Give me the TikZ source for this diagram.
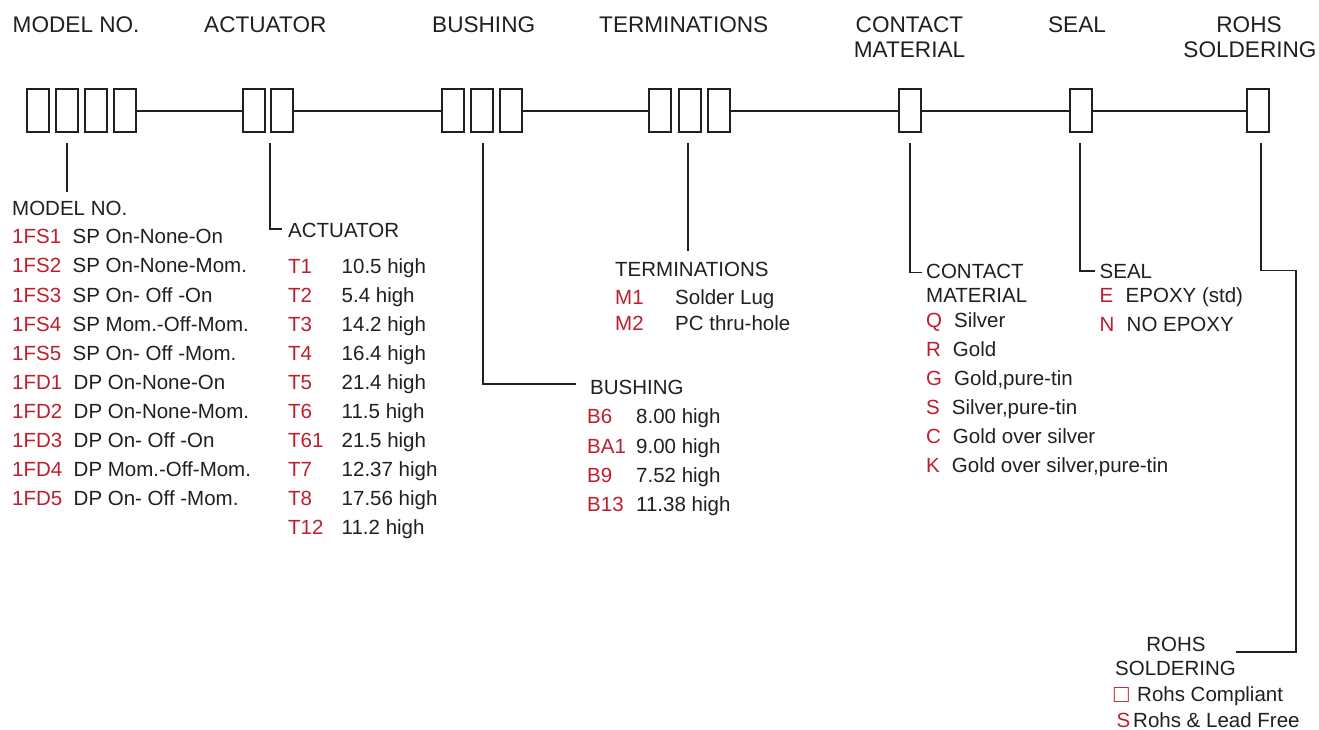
\documentclass[tikz,border=0pt]{standalone}
\usepackage{fontspec}
\setmainfont{Liberation Sans}
\definecolor{ink}{RGB}{35,31,32}
\definecolor{codered}{RGB}{190,30,45}
\begin{document}
\begin{tikzpicture}[x=1pt,y=-1pt,
 box/.style={draw=ink, line width=2pt, minimum width=22pt, minimum height=43pt, inner sep=0pt, outer sep=0pt},
 conn/.style={draw=ink, line width=2pt},
 lead/.style={draw=ink, line width=1.7pt},
 head/.style={font=\fontsize{22.6}{26}\selectfont, text=ink, inner sep=0pt, text height=16.2pt, text depth=0pt},
 txt/.style={font=\fontsize{20.5}{24}\selectfont, text=ink, inner sep=0pt, text height=14.7pt, text depth=0pt, anchor=west},
 code/.style={txt, text=codered}]
\useasboundingbox[fill=white] (0,0) rectangle (1319,729);

% ---- headings
\node[head, anchor=west] (hmodel) at (12.5,24.5) {MODEL NO.};
\node[head, anchor=west] (hact) at (204,24.5) {ACTUATOR};
\node[head, anchor=west] (hbush) at (432,24.5) {BUSHING};
\node[head, anchor=west] (hterm) at (599,24.5) {TERMINATIONS};
\node[head] (hcont1) at (909.5,24) {CONTACT};
\node[head] (hcont2) at (909.5,49.5) {MATERIAL};
\node[head] (hseal) at (1077,24) {SEAL};
\node[head] (hrohs1) at (1249,24) {ROHS};
\node[head] (hrohs2) at (1250,49.5) {SOLDERING};

% ---- boxes
\node[box] (m1) at (38,110.5) {};
\node[box] (m2) at (67,110.5) {};
\node[box] (m3) at (96,110.5) {};
\node[box] (m4) at (125,110.5) {};
\node[box] (a1) at (254,110.5) {};
\node[box] (a2) at (282,110.5) {};
\node[box] (b1) at (453,110.5) {};
\node[box] (b2) at (482,110.5) {};
\node[box] (b3) at (511,110.5) {};
\node[box] (t1) at (660,110.5) {};
\node[box] (t2) at (690,110.5) {};
\node[box] (t3) at (719,110.5) {};
\node[box] (c1) at (910,110.5) {};
\node[box] (s1) at (1080.5,110.5) {};
\node[box] (r1) at (1258,110.5) {};

% ---- main line
\draw[conn] (m4.east) -- (a1.west);
\draw[conn] (a2.east) -- (b1.west);
\draw[conn] (b3.east) -- (t1.west);
\draw[conn] (t3.east) -- (c1.west);
\draw[conn] (c1.east) -- (s1.west);
\draw[conn] (s1.east) -- (r1.west);

% ---- lead coordinates
\coordinate (mt) at (67,143);   \coordinate (mb) at (67,192);
\coordinate (at) at (270,143);  \coordinate (ab) at (270,229);  \coordinate (ae) at (282,229);
\coordinate (bt) at (483,143);  \coordinate (bb) at (483,384);  \coordinate (be) at (575.5,384);
\coordinate (tt) at (688,143);  \coordinate (tb) at (688,251);
\coordinate (ct) at (910,143);  \coordinate (cb) at (910,272.5); \coordinate (ce) at (921.5,272.5);
\coordinate (st) at (1080,143); \coordinate (sb) at (1080,271);  \coordinate (se) at (1095,271);
\coordinate (rt) at (1261,143); \coordinate (rb) at (1261,270.5); \coordinate (rc) at (1296,270.5);
\coordinate (rd) at (1296,652); \coordinate (re) at (1236,652);

\draw[lead] (mt) -- (mb);
\draw[lead] (at) -- (ab) -- (ae);
\draw[lead] (bt) -- (bb) -- (be);
\draw[lead] (tt) -- (tb);
\draw[lead] (ct) -- (cb) -- (ce);
\draw[lead] (st) -- (sb) -- (se);
\draw[lead] (rt) -- (rb) -- (rc) -- (rd) -- (re);

% ---- MODEL NO. list
\node[txt] (lmodel) at (12,208.5) {MODEL NO.};
\foreach \c/\d/\dx [count=\i from 0] in {1FS1/SP On-None-On/72.5, 1FS2/SP On-None-Mom./72.5, 1FS3/SP On- Off -On/72.5, 1FS4/SP Mom.-Off-Mom./72.5, 1FS5/SP On- Off -Mom./72.5, 1FD1/DP On-None-On/73.5, 1FD2/DP On-None-Mom./73.5, 1FD3/DP On- Off -On/73.5, 1FD4/DP Mom.-Off-Mom./73.5, 1FD5/DP On- Off -Mom./73.5}{
  \node[code] (mc\i) at (12,236.5+29.1*\i) {\c};
  \node[txt] (md\i) at (\dx,236.5+29.1*\i) {\d};
}

% ---- ACTUATOR list
\node[txt] (lact) at (288,230.5) {ACTUATOR};
\foreach \c/\d [count=\i from 0] in {T1/10.5 high, T2/5.4 high, T3/14.2 high, T4/16.4 high, T5/21.4 high, T6/11.5 high, T61/21.5 high, T7/12.37 high, T8/17.56 high, T12/11.2 high}{
  \node[code] (ac\i) at (288,266+29.06*\i) {\c};
  \node[txt] (ad\i) at (341.5,266+29.06*\i) {\d};
}

% ---- BUSHING list
\node[txt] (lbush) at (590,387.5) {BUSHING};
\foreach \c/\d [count=\i from 0] in {B6/8.00 high, BA1/9.00 high, B9/7.52 high, B13/11.38 high}{
  \node[code] (bc\i) at (587,416.5+29.2*\i) {\c};
  \node[txt] (bd\i) at (636,416.5+29.2*\i) {\d};
}

% ---- TERMINATIONS list
\node[txt] (lterm) at (615,269) {TERMINATIONS};
\node[code] (tc0) at (615,297) {M1};
\node[txt] (td0) at (675,297) {Solder Lug};
\node[code] (tc1) at (615,323) {M2};
\node[txt] (td1) at (675,323) {PC thru-hole};

% ---- CONTACT MATERIAL list
\node[txt] (lcont1) at (926,271.5) {CONTACT};
\node[txt] (lcont2) at (926,295) {MATERIAL};
\foreach \c/\d/\dx [count=\i from 0] in {Q/Silver/954, R/Gold/952.7, G/{Gold,pure-tin}/954, S/{Silver,pure-tin}/951.7, C/Gold over silver/952.7, K/{Gold over silver,pure-tin}/951.7}{
  \node[code] (cc\i) at (926,320.5+29*\i) {\c};
  \node[txt] (cd\i) at (\dx,320.5+29*\i) {\d};
}

% ---- SEAL list
\node[txt] (lseal) at (1099.5,271.5) {SEAL};
\node[code] (sc0) at (1099.5,295.5) {E};
\node[txt] (sd0) at (1125.5,295.5) {EPOXY (std)};
\node[code] (sc1) at (1099.5,324.5) {N};
\node[txt] (sd1) at (1126.5,324.5) {NO EPOXY};

% ---- ROHS list
\node[txt, anchor=center] (lrohs1) at (1176,644.5) {ROHS};
\node[txt, anchor=center] (lrohs2) at (1175.5,668.5) {SOLDERING};
\node[code, font=\fontsize{25}{28}\selectfont, anchor=center] (rc0) at (1121.5,695) {□};
\node[txt] (rd0) at (1137,694) {Rohs Compliant};
\node[code] (rc1) at (1116.5,720) {S};
\node[txt] (rd1) at (1133,720) {Rohs \& Lead Free};
\end{tikzpicture}
\end{document}
